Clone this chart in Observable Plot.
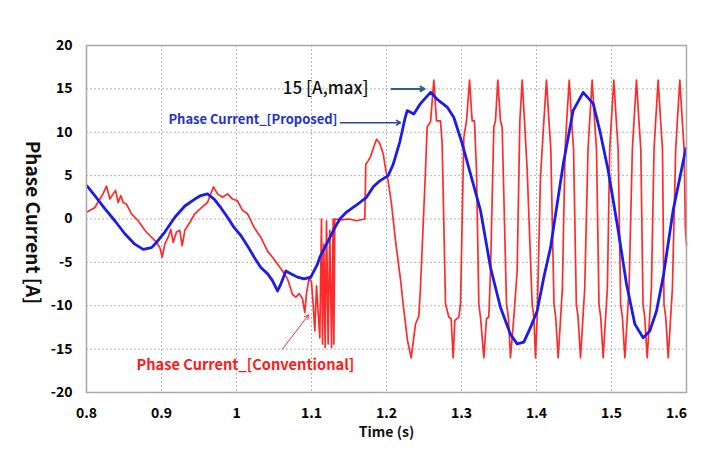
<!DOCTYPE html>
<html><head><meta charset="utf-8">
<script src="https://cdn.jsdelivr.net/npm/d3@7"></script>
<script src="https://cdn.jsdelivr.net/npm/@observablehq/plot@0.6"></script>
<style>body{margin:0;background:#fff;} svg{display:block}</style>
</head><body><div id="chart"></div>
<script>
// Proposed (blue) phase current: time (s), current (A)
const blueT = [0.8009,0.8111,0.8244,0.8378,0.8511,0.8644,0.8756,0.8867,0.8933,0.9044,0.9178,0.9311,0.9444,0.9524,0.9613,0.9702,0.9791,0.988,0.9969,1.0058,1.0147,1.0236,1.0324,1.0413,1.048,1.0547,1.0591,1.0658,1.0724,1.0813,1.0902,1.0991,1.108,1.1111,1.12,1.1311,1.1378,1.1467,1.1644,1.1733,1.1822,1.1911,1.2022,1.2089,1.2178,1.2244,1.2276,1.2364,1.2453,1.2587,1.2676,1.2809,1.2898,1.3009,1.312,1.3253,1.3387,1.352,1.3653,1.3742,1.3831,1.392,1.4009,1.4098,1.4187,1.4222,1.4356,1.4489,1.4622,1.4756,1.4844,1.4956,1.5089,1.52,1.5311,1.5422,1.5511,1.56,1.5689,1.5822,1.5991];
const blueV = [3.8,2.7,1.2,-0.2,-1.7,-2.9,-3.5,-3.3,-2.7,-1.5,0.2,1.5,2.3,2.7,2.9,2.3,1.3,0.2,-1.0,-1.9,-3.1,-4.4,-5.6,-6.3,-7.1,-8.3,-7.5,-6.0,-6.3,-6.7,-6.9,-6.7,-5.2,-4.4,-2.9,-1.0,0,0.8,1.9,2.5,3.7,4.4,5.0,6.3,8.9,11.5,12.5,12.1,13.3,14.6,13.8,12.9,11.7,8.7,5.2,1.0,-5.6,-10.2,-13.3,-14.4,-14.2,-12.5,-10.6,-6.7,-3.3,-1.3,6.3,12.5,14.6,13.3,10.2,5.6,-1.3,-7.5,-12.1,-13.7,-12.9,-10.6,-6.7,1.0,8.1];

// Conventional (red) phase current: time (s), current (A)
const redT = [0.8005,0.811,0.8178,0.822,0.8267,0.8311,0.8356,0.8387,0.8422,0.8458,0.8489,0.8533,0.86,0.8689,0.8778,0.8867,0.8933,0.8978,0.9009,0.9044,0.9089,0.9124,0.9156,0.92,0.9244,0.9276,0.9311,0.9378,0.9444,0.9533,
0.9613,0.9693,0.9747,0.9813,0.988,0.9947,1.0013,1.008,1.0147,1.0236,1.0324,1.0413,1.048,1.0547,1.0613,1.068,1.0747,1.0791,1.0836,1.088,1.0911,1.0933,1.0969,1.1,1.1022,1.1044,1.1067,1.1089,1.1111,1.1133,1.1147,1.1164,1.1182,1.12,1.1222,1.1244,1.1267,1.1289,1.1298,1.1311,1.14,1.15,1.16,1.1711,
1.1724,1.1756,1.1787,1.1822,1.1867,1.1911,1.1956,1.1991,1.2022,1.2067,1.212,1.2187,1.2227,1.228,1.2329,
1.2387,1.2431,1.2453,1.252,1.2542,1.2587,1.2631,1.2667,1.272,1.2742,1.2787,1.2831,1.2862,1.2889,1.2911,1.2964,1.2987,
1.3031,1.3067,1.3107,1.3142,1.3173,1.32,1.3231,1.3253,1.3298,1.3333,1.3364,1.3387,
1.3431,1.3453,1.3484,1.352,1.3542,1.36,1.3625,1.3653,1.3698,1.3742,
1.3778,1.3809,1.384,1.3876,1.3942,1.3965,1.3987,1.4009,1.4053,1.4098,1.4133,1.4166,1.4191,
1.4233,1.4256,1.4289,1.4322,1.4345,1.4381,1.4403,1.4436,1.4469,1.4494,
1.4531,1.4554,1.4587,1.462,1.4643,1.4687,1.4709,1.4742,1.4775,1.48,
1.4833,1.4856,1.4889,1.4922,1.4945,1.4976,1.4998,1.5031,1.5064,1.5089,
1.5122,1.5145,1.5178,1.5211,1.5234,1.5278,1.53,1.5333,1.5366,1.5391,
1.542,1.5443,1.5476,1.5509,1.5532,1.5567,1.5589,1.5622,1.5655,1.568,
1.57,1.5723,1.5756,1.5789,1.5812,1.5856,1.5878,1.5911,1.5944,1.5969,1.5985,1.6];
const redV = [0.8,1.3,2.3,2.9,3.8,2.3,2.9,3.3,1.9,2.7,1.9,1.7,0.6,-0.2,-1.3,-2.1,-2.7,-3.3,-4.4,-2.9,-2.1,-1.2,-2.7,-1.5,-1.3,-3.1,-1.3,-0.4,0.6,1.3,
1.9,3.7,2.9,2.5,2.9,2.3,2.1,1.0,0.6,-1.0,-2.1,-3.7,-4.4,-5.2,-6.0,-6.9,-8.7,-9.0,-8.6,-9.2,-10.8,-8.6,-6.7,-7.3,-9.8,-12.9,-7.7,-10.8,-13.7,0,-14.4,-2.9,-14.8,-0.2,-14.4,-1.3,-14.8,0,-14.4,0,-0.1,0,-0.2,0,
6.3,6.7,7.2,8.1,9.2,8.7,7.5,5.6,4.4,1.7,-2.5,-7,-10.2,-14,-16,
-12.1,-11.2,-7.9,5.6,10.6,11.2,16,11.3,11.3,8.7,-9.8,-11.3,-11.5,-16,-11.7,-11.3,-9.8,
9.4,11.3,16,11.3,11.3,5.6,-9.8,-11.3,-16,-11.5,-11.3,-6,
10.6,11.3,16,11.3,10.6,-9.8,-11.3,-16,-11.3,-6,
11.3,16,11.3,5.6,-9.8,-11.3,-16,-11.3,4.8,11.3,16,11.3,8,
-9.8,-11.3,-16,-11.3,-8,8,11.3,16,11.3,8,
-9.8,-11.3,-16,-11.3,-8,8,11.3,16,11.3,8,
-9.8,-11.3,-16,-11.3,-8,8,11.3,16,11.3,8,
-9.8,-11.3,-16,-11.3,-8,8,11.3,16,11.3,8,
-9.8,-11.3,-16,-11.3,-8,8,11.3,16,11.3,8,
-9.8,-11.3,-16,-11.3,-8,8,11.3,16,11.3,8,-1,-3];

const xTicks = [0.8,0.9,1.0,1.1,1.2,1.3,1.4,1.5];
const xTickLast = [1.6];
const xGrid = [0.9,1.0,1.1,1.2,1.3,1.4,1.5];
const yTicks = [-20,-15,-10,-5,0,5,10,15,20];
const yGrid = [-15,-10,-5,0,5,10,15];

const blue = blueT.map((t,i)=>({t, v: blueV[i]}));
const red = redT.map((t,i)=>({t, v: redV[i]}));

// annotations (data coordinates)
const notes = [
  {t:1.176, v:15, text:"15 [A,max]", color:"#111", size:17, weight:500, anchor:"end"},
  {t:1.1347, v:11.4, text:"Phase Current_[Proposed]", color:"#2233c8", size:13, weight:"bold", anchor:"end"},
  {t:0.8667, v:-16.9, text:"Phase Current_[Conventional]", color:"#ff1a1a", size:14.6, weight:"bold", anchor:"start"}
];
const arrows = [
  {t1:1.2067, v1:15, t2:1.2507, v2:15, color:"#2a6478", w:2},
  {t1:1.1387, v1:11.1, t2:1.2187, v2:11.1, color:"#2a44a8", w:1.5},
  {t1:1.0613, v1:-15, t2:1.096, v2:-11.06, color:"#ff2a2a", w:1}
];

const FONT = "'Noto Sans CJK KR', 'Noto Sans', sans-serif";

const plot = Plot.plot({
  width: 711, height: 465,
  marginLeft: 86, marginRight: 25, marginTop: 45, marginBottom: 73,
  x: {domain: [0.8, 1.6]},
  y: {domain: [-20, 20]},
  style: {fontFamily: FONT, background: "#fff"},
  marks: [
    Plot.gridX(xGrid, {stroke: "#b5b5b5", strokeOpacity: 1, strokeDasharray: "2,2"}),
    Plot.gridY(yGrid, {stroke: "#b5b5b5", strokeOpacity: 1, strokeDasharray: "2,2"}),
    Plot.line(red, {x: "t", y: "v", stroke: "#ff2020", strokeWidth: 1.7, strokeOpacity: 0.95}),
    Plot.line(blue, {x: "t", y: "v", stroke: "#1c1ce8", strokeWidth: 2.8}),
    Plot.frame({stroke: "#a8a8a8", strokeWidth: 1.5}),
    Plot.axisY({ticks: yTicks, tickSize: 0, tickPadding: 14, fontSize: 14, fontWeight: "bold", label: null, tickFormat: d => String(d)}),
    Plot.axisX({ticks: xTicks, tickSize: 0, tickPadding: 16, fontSize: 14, fontWeight: "bold", label: null, tickFormat: d => String(d)}),
    Plot.axisX({ticks: xTickLast, tickSize: 0, tickPadding: 16, fontSize: 14, fontWeight: "bold", label: null, dx: -10, tickFormat: d => String(d)}),
    Plot.text(["Time (s)"], {x: 1.2, frameAnchor: "bottom", dy: 44, text: d => d, fontSize: 14, fontWeight: "bold", fill: "#111"}),
    Plot.text(["Phase Current [A]"], {y: -0.4, frameAnchor: "left", textAnchor: "middle", dx: -54, rotate: 90, text: d => d, fontSize: 19, fontWeight: "bold", fill: "#111"}),
    Plot.arrow(arrows, {x1: "t1", y1: "v1", x2: "t2", y2: "v2", stroke: "color", strokeWidth: "w", headLength: 7}),
    ...notes.map(n => Plot.text([n], {x: "t", y: "v", text: "text", fill: n.color, fontSize: n.size, fontWeight: n.weight, textAnchor: n.anchor}))
  ]
});
document.getElementById("chart").appendChild(plot);
</script>
</body></html>
